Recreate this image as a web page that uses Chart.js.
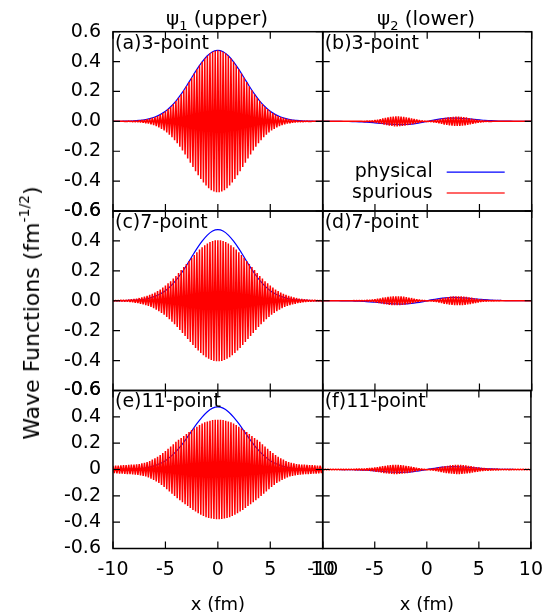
<!DOCTYPE html>
<html><head><meta charset="utf-8">
<script src="https://cdn.jsdelivr.net/npm/chart.js@4.4.1/dist/chart.umd.min.js"></script>
<style>
html,body{margin:0;padding:0;background:#fff;}
#wrap{position:relative;width:553px;height:613px;overflow:hidden;font-family:"DejaVu Sans",sans-serif;color:#000;background:#fff;}
canvas{position:absolute;left:0;top:0;}
.t{position:absolute;font-size:19px;white-space:nowrap;transform:translate(-50%,-50%);line-height:1;}
.sub{font-size:13px;position:relative;top:5px;}
.sup{font-size:14px;position:relative;top:-10px;}
</style></head><body>
<div id="wrap">
<canvas id="c0" width="553" height="613"></canvas>
<canvas id="c1" width="553" height="613"></canvas>
<canvas id="c2" width="553" height="613"></canvas>
<canvas id="c3" width="553" height="613"></canvas>
<canvas id="c4" width="553" height="613"></canvas>
<canvas id="c5" width="553" height="613"></canvas>
<div class="t" style="left:217px;top:18px;font-size:20px">ψ<span class="sub">1</span> (upper)</div>
<div class="t" style="left:426px;top:18px;font-size:20px">ψ<span class="sub">2</span> (lower)</div>
<div class="t" style="left:218px;top:604px;font-size:18px">x (fm)</div>
<div class="t" style="left:427px;top:604px;font-size:18px">x (fm)</div>
<div class="t" style="left:32px;top:313px;font-size:22px;transform:translate(-50%,-50%) rotate(-90deg);">Wave Functions (fm<span class="sup">-1/2</span>)</div>
</div>
<script>
// ---- data ----
const X_TICKS = [-10, -5, 0, 5, 10];
const Y_TICKS = [-0.6, -0.4, -0.2, 0, 0.2, 0.4, 0.6];
const X_COARSE = [-10,-9.5,-9,-8.5,-8,-7.5,-7,-6.5,-6,-5.5,-5,-4.5,-4,-3.5,-3,-2.5,-2,-1.5,-1,-0.5,0,0.5,1,1.5,2,2.5,3,3.5,4,4.5,5,5.5,6,6.5,7,7.5,8,8.5,9,9.5,10];
const X_FINE = [
 -10,-9.875,-9.75,-9.625,-9.5,-9.375,-9.25,-9.125,
 -9,-8.875,-8.75,-8.625,-8.5,-8.375,-8.25,-8.125,
 -8,-7.875,-7.75,-7.625,-7.5,-7.375,-7.25,-7.125,
 -7,-6.875,-6.75,-6.625,-6.5,-6.375,-6.25,-6.125,
 -6,-5.875,-5.75,-5.625,-5.5,-5.375,-5.25,-5.125,
 -5,-4.875,-4.75,-4.625,-4.5,-4.375,-4.25,-4.125,
 -4,-3.875,-3.75,-3.625,-3.5,-3.375,-3.25,-3.125,
 -3,-2.875,-2.75,-2.625,-2.5,-2.375,-2.25,-2.125,
 -2,-1.875,-1.75,-1.625,-1.5,-1.375,-1.25,-1.125,
 -1,-0.875,-0.75,-0.625,-0.5,-0.375,-0.25,-0.125,
 0,
 0.125,0.25,0.375,0.5,0.625,0.75,0.875,1,
 1.125,1.25,1.375,1.5,1.625,1.75,1.875,2,
 2.125,2.25,2.375,2.5,2.625,2.75,2.875,3,
 3.125,3.25,3.375,3.5,3.625,3.75,3.875,4,
 4.125,4.25,4.375,4.5,4.625,4.75,4.875,5,
 5.125,5.25,5.375,5.5,5.625,5.75,5.875,6,
 6.125,6.25,6.375,6.5,6.625,6.75,6.875,7,
 7.125,7.25,7.375,7.5,7.625,7.75,7.875,8,
 8.125,8.25,8.375,8.5,8.625,8.75,8.875,9,
 9.125,9.25,9.375,9.5,9.625,9.75,9.875,10];

// physical wave functions (blue), on X_COARSE
const PHYS_UPPER = [0,0,0.001,0.002,0.003,0.006,0.010,0.018,0.029,0.045,0.067,0.098,0.136,0.182,0.235,0.292,0.348,0.398,0.439,0.466,0.475,0.466,0.439,0.398,0.348,0.292,0.235,0.182,0.136,0.098,0.067,0.045,0.029,0.018,0.010,0.006,0.003,0.002,0.001,0,0];
const PHYS_LOWER = [0,0,0,0,-0.001,-0.001,-0.002,-0.003,-0.005,-0.007,-0.010,-0.013,-0.016,-0.019,-0.021,-0.022,-0.021,-0.018,-0.013,-0.007,0,0.007,0.013,0.018,0.021,0.022,0.021,0.019,0.016,0.013,0.010,0.007,0.005,0.003,0.002,0.001,0.001,0,0,0,0];

// spurious solutions (red), on X_FINE
const SPUR_A = [
 0,0,0,0,0,0,0,0,
 0.001,-0.001,0.001,-0.001,0.002,-0.002,0.002,-0.003,0.003,-0.004,0.004,-0.005,0.006,-0.007,0.008,-0.009,
 0.010,-0.012,0.014,-0.015,0.018,-0.020,0.023,-0.025,0.029,-0.032,0.036,-0.040,0.045,-0.050,0.055,-0.061,
 0.067,-0.074,0.082,-0.089,0.098,-0.107,0.116,-0.126,0.136,-0.147,0.158,-0.170,0.182,-0.195,0.208,-0.222,
 0.235,-0.249,0.263,-0.277,0.292,-0.306,0.320,-0.334,0.348,-0.361,0.374,-0.386,0.398,-0.410,0.420,-0.430,
 0.439,-0.447,0.455,-0.461,0.466,-0.470,0.473,-0.474,
 0.475,
 -0.474,0.473,-0.470,0.466,-0.461,0.455,-0.447,0.439,
 -0.430,0.420,-0.410,0.398,-0.386,0.374,-0.361,0.348,-0.334,0.320,-0.306,0.292,-0.277,0.263,-0.249,0.235,
 -0.222,0.208,-0.195,0.182,-0.170,0.158,-0.147,0.136,-0.126,0.116,-0.107,0.098,-0.089,0.082,-0.074,0.067,
 -0.061,0.055,-0.050,0.045,-0.040,0.036,-0.032,0.029,-0.025,0.023,-0.020,0.018,-0.015,0.014,-0.012,0.010,
 -0.009,0.008,-0.007,0.006,-0.005,0.004,-0.004,0.003,-0.003,0.002,-0.002,0.002,-0.001,0.001,-0.001,0.001,
 0,0,0,0,0,0,0,0];
const SPUR_C = [
 0.003,-0.003,0.003,-0.003,0.003,-0.003,0.004,-0.004,0.005,-0.005,0.006,-0.006,0.007,-0.008,0.009,-0.010,
 0.012,-0.013,0.014,-0.016,0.018,-0.020,0.022,-0.024,0.027,-0.029,0.032,-0.035,0.039,-0.042,0.046,-0.050,
 0.055,-0.060,0.065,-0.070,0.075,-0.081,0.088,-0.094,0.101,-0.108,0.116,-0.123,0.131,-0.140,0.148,-0.157,
 0.166,-0.176,0.185,-0.195,0.205,-0.215,0.225,-0.235,0.246,-0.256,0.266,-0.276,0.286,-0.296,0.306,-0.315,
 0.324,-0.333,0.342,-0.350,0.357,-0.365,0.371,-0.378,0.383,-0.388,0.393,-0.396,0.399,-0.402,0.404,-0.405,
 0.405,
 -0.405,0.404,-0.402,0.399,-0.396,0.393,-0.388,0.383,-0.378,0.371,-0.365,0.357,-0.350,0.342,-0.333,0.324,
 -0.315,0.306,-0.296,0.286,-0.276,0.266,-0.256,0.246,-0.235,0.225,-0.215,0.205,-0.195,0.185,-0.176,0.166,
 -0.157,0.148,-0.140,0.131,-0.123,0.116,-0.108,0.101,-0.094,0.088,-0.081,0.075,-0.070,0.065,-0.060,0.055,
 -0.050,0.046,-0.042,0.039,-0.035,0.032,-0.029,0.027,-0.024,0.022,-0.020,0.018,-0.016,0.014,-0.013,0.012,
 -0.010,0.009,-0.008,0.007,-0.006,0.006,-0.005,0.005,-0.004,0.004,-0.003,0.003,-0.003,0.003,-0.003,0.003];
const SPUR_E = [
 0.028,-0.028,0.029,-0.029,0.030,-0.031,0.032,-0.032,0.033,-0.034,0.034,-0.035,0.036,-0.036,0.037,-0.037,
 0.038,-0.039,0.040,-0.041,0.042,-0.044,0.046,-0.048,0.050,-0.053,0.057,-0.061,0.065,-0.070,0.075,-0.080,
 0.085,-0.091,0.097,-0.103,0.110,-0.117,0.125,-0.132,0.140,-0.149,0.157,-0.166,0.175,-0.184,0.192,-0.201,
 0.210,-0.218,0.225,-0.233,0.240,-0.248,0.255,-0.263,0.270,-0.278,0.285,-0.293,0.300,-0.307,0.313,-0.319,
 0.325,-0.332,0.338,-0.344,0.350,-0.354,0.358,-0.362,0.365,-0.368,0.371,-0.373,0.375,-0.376,0.377,-0.378,
 0.378,
 -0.378,0.377,-0.376,0.375,-0.373,0.371,-0.368,0.365,-0.362,0.358,-0.354,0.350,-0.344,0.338,-0.332,0.325,
 -0.319,0.313,-0.307,0.300,-0.293,0.285,-0.278,0.270,-0.263,0.255,-0.248,0.240,-0.233,0.225,-0.218,0.210,
 -0.201,0.192,-0.184,0.175,-0.166,0.157,-0.149,0.140,-0.132,0.125,-0.117,0.110,-0.103,0.097,-0.091,0.085,
 -0.080,0.075,-0.070,0.065,-0.061,0.057,-0.053,0.050,-0.048,0.046,-0.044,0.042,-0.041,0.040,-0.039,0.038,
 -0.037,0.037,-0.036,0.036,-0.035,0.034,-0.034,0.033,-0.032,0.032,-0.031,0.030,-0.029,0.029,-0.028,0.028];
const SPUR_B = [
 0,0,0,0,0,0,0,0,0,0,0,0,0,0,0,0,0,0,0,0,0,0,0,0,0,0,0,0,0,0,
 0.001,-0.001,0.001,-0.001,0.002,-0.002,0.003,-0.004,0.005,-0.006,
 0.008,-0.009,0.011,-0.013,0.015,-0.017,0.019,-0.021,0.023,-0.025,
 0.027,-0.028,0.030,-0.031,0.032,-0.033,0.033,-0.033,0.033,-0.032,
 0.032,-0.031,0.030,-0.028,0.027,-0.025,0.024,-0.022,0.020,-0.018,
 0.016,-0.014,0.012,-0.010,0.008,-0.006,0.005,-0.003,0.002,-0.001,
 0,
 -0.001,0.002,-0.003,0.005,-0.006,0.008,-0.009,0.011,-0.013,0.015,
 -0.017,0.019,-0.021,0.023,-0.024,0.026,-0.027,0.028,-0.029,0.030,
 -0.030,0.031,-0.031,0.031,-0.031,0.030,-0.029,0.028,-0.027,0.026,
 -0.024,0.022,-0.020,0.018,-0.016,0.014,-0.012,0.010,-0.009,0.008,
 -0.006,0.005,-0.004,0.003,-0.002,0.002,-0.001,0.001,-0.001,0.001,
 0,0,0,0,0,0,0,0,0,0,0,0,0,0,0,0,0,0,0,0,0,0,0,0,0,0,0,0,0,0];
const SPUR_D = [
 0,0,0,0,0,0,0,0,0,0,0,0,0,0,0,0,0,0,0,0,0,0,0,0,
 0.001,-0.001,0.001,-0.001,0.002,-0.002,0.002,-0.002,0.003,-0.003,0.004,-0.004,0.005,-0.006,0.007,-0.008,
 0.010,-0.012,0.013,-0.015,0.016,-0.018,0.020,-0.022,0.023,-0.025,0.026,-0.027,0.028,-0.029,0.030,-0.030,
 0.030,-0.030,0.030,-0.030,0.029,-0.028,0.027,-0.026,0.024,-0.023,0.021,-0.020,0.018,-0.016,0.014,-0.012,
 0.010,-0.008,0.007,-0.005,0.004,-0.003,0.002,-0.001,
 0,
 -0.001,0.002,-0.003,0.004,-0.005,0.007,-0.008,0.010,
 -0.012,0.014,-0.016,0.018,-0.020,0.021,-0.023,0.024,-0.026,0.027,-0.028,0.029,-0.030,0.030,-0.030,0.030,
 -0.030,0.030,-0.029,0.028,-0.027,0.026,-0.025,0.023,-0.022,0.020,-0.018,0.016,-0.015,0.013,-0.012,0.010,
 -0.008,0.007,-0.006,0.005,-0.004,0.004,-0.003,0.003,-0.002,0.002,-0.002,0.002,-0.001,0.001,-0.001,0.001,
 0,0,0,0,0,0,0,0,0,0,0,0,0,0,0,0,0,0,0,0,0,0,0,0];
const SPUR_F = [
 0.003,-0.003,0.003,-0.003,0.003,-0.003,0.003,-0.003,0.003,-0.003,0.003,-0.003,0.003,-0.003,0.003,-0.003,
 0.003,-0.004,0.004,-0.004,0.004,-0.004,0.004,-0.004,0.004,-0.005,0.005,-0.005,0.005,-0.006,0.006,-0.007,
 0.007,-0.008,0.008,-0.009,0.010,-0.011,0.012,-0.014,0.015,-0.017,0.018,-0.020,0.021,-0.023,0.025,-0.027,
 0.028,-0.030,0.031,-0.032,0.033,-0.034,0.035,-0.035,0.035,-0.035,0.035,-0.034,0.033,-0.032,0.031,-0.030,
 0.028,-0.027,0.025,-0.023,0.021,-0.019,0.017,-0.015,0.013,-0.011,0.009,-0.007,0.005,-0.004,0.002,-0.001,
 0,
 -0.001,0.002,-0.004,0.005,-0.007,0.009,-0.011,0.013,-0.015,0.017,-0.019,0.021,-0.023,0.025,-0.027,0.028,
 -0.030,0.031,-0.032,0.033,-0.034,0.035,-0.035,0.035,-0.035,0.035,-0.034,0.033,-0.032,0.031,-0.030,0.028,
 -0.027,0.025,-0.023,0.021,-0.020,0.018,-0.017,0.015,-0.014,0.012,-0.011,0.010,-0.009,0.008,-0.008,0.007,
 -0.007,0.006,-0.006,0.005,-0.005,0.005,-0.005,0.004,-0.004,0.004,-0.004,0.004,-0.004,0.004,-0.004,0.003,
 -0.003,0.003,-0.003,0.003,-0.003,0.003,-0.003,0.003,-0.003,0.003,-0.003,0.003,-0.003,0.003,-0.003,0.003];

const PANEL_LABELS = ['(a)3-point','(b)3-point','(c)7-point','(d)7-point','(e)11-point','(f)11-point'];
const SERIES_NAMES = ['physical','spurious'];

// ---- layout ----
const W = 553, H = 613;
const COLS = [113, 322.7, 531.7];
const ROWS = [31.7, 211, 390.5, 548.5];
const YAXIS_W = 100, XAXIS_H = 50;
const TICK = 7;
const FONT = '"DejaVu Sans", sans-serif';

Chart.defaults.font.family = FONT;
Chart.defaults.font.size = 19;
Chart.defaults.color = '#000';

const PANELS = [
  {label: PANEL_LABELS[0], col: 0, row: 0, phys: PHYS_UPPER, spur: SPUR_A},
  {label: PANEL_LABELS[1], col: 1, row: 0, phys: PHYS_LOWER, spur: SPUR_B, legend: true},
  {label: PANEL_LABELS[2], col: 0, row: 1, phys: PHYS_UPPER, spur: SPUR_C},
  {label: PANEL_LABELS[3], col: 1, row: 1, phys: PHYS_LOWER, spur: SPUR_D},
  {label: PANEL_LABELS[4], col: 0, row: 2, phys: PHYS_UPPER, spur: SPUR_E, shortZero: true},
  {label: PANEL_LABELS[5], col: 1, row: 2, phys: PHYS_LOWER, spur: SPUR_F}
];

const framePlugin = {
  id: 'frame',
  afterDatasetsDraw(chart, args, opts) {
    const {ctx, chartArea: a, scales: {x, y}} = chart;
    ctx.save();
    ctx.strokeStyle = '#000';
    ctx.lineWidth = 1.2;
    ctx.beginPath();
    X_TICKS.forEach(v => {
      const px = x.getPixelForValue(v);
      ctx.moveTo(px, a.bottom); ctx.lineTo(px, a.bottom - TICK);
      ctx.moveTo(px, a.top); ctx.lineTo(px, a.top + TICK);
    });
    Y_TICKS.forEach(v => {
      const py = y.getPixelForValue(v);
      ctx.moveTo(a.left, py); ctx.lineTo(a.left + TICK, py);
      ctx.moveTo(a.right, py); ctx.lineTo(a.right - TICK, py);
    });
    ctx.stroke();
    ctx.lineWidth = 1.5;
    ctx.strokeRect(a.left, a.top, a.right - a.left, a.bottom - a.top);
    ctx.fillStyle = '#000';
    ctx.font = '19px ' + FONT;
    ctx.textBaseline = 'middle';
    ctx.textAlign = 'left';
    ctx.fillText(opts.label, a.left + 2, a.top + 12);
    if (opts.legend) {
      const ds = chart.data.datasets;
      const yy = [y.getPixelForValue(-0.34), y.getPixelForValue(-0.48)];
      ds.forEach((d, i) => {
        ctx.textAlign = 'right';
        ctx.fillStyle = '#000';
        ctx.fillText(d.label, a.left + 110, yy[i]);
        ctx.beginPath();
        ctx.strokeStyle = i === 0 ? '#0000ff' : 'rgba(255,0,0,0.6)';
        ctx.lineWidth = i === 0 ? 1.3 : 2;
        ctx.moveTo(a.left + 124, yy[i]); ctx.lineTo(a.left + 182, yy[i]);
        ctx.stroke();
      });
    }
    ctx.restore();
  }
};

PANELS.forEach((p, idx) => {
  const L = COLS[p.col], R = COLS[p.col + 1], T = ROWS[p.row], B = ROWS[p.row + 1];
  new Chart(document.getElementById('c' + idx), {
    type: 'line',
    data: {
      datasets: [
        {label: SERIES_NAMES[0], data: X_COARSE.map((x, i) => ({x, y: p.phys[i]})),
         borderColor: '#0000ff', borderWidth: 1.2, pointRadius: 0, cubicInterpolationMode: 'monotone', order: 2},
        {label: SERIES_NAMES[1], data: X_FINE.map((x, i) => ({x, y: p.spur[i]})),
         borderColor: '#ff0000', borderWidth: 1.5, pointRadius: 0, tension: 0, borderJoinStyle: 'bevel', order: 1}
      ]
    },
    options: {
      responsive: false, animation: false, events: [],
      layout: {padding: {left: L - YAXIS_W, right: W - R, top: T, bottom: H - B - XAXIS_H}},
      plugins: {legend: {display: false}, tooltip: {enabled: false},
                frame: {label: p.label, legend: !!p.legend}},
      scales: {
        x: {type: 'linear', min: -10, max: 10,
            afterBuildTicks: s => { s.ticks = X_TICKS.map(v => ({value: v})); },
            afterFit: s => { s.height = XAXIS_H; },
            grid: {display: false, drawTicks: false}, border: {display: false},
            ticks: {display: p.row === 2, padding: 10, maxRotation: 0, autoSkip: false,
                    callback: v => String(v)}},
        y: {type: 'linear', min: -0.6, max: 0.6,
            afterBuildTicks: s => { s.ticks = Y_TICKS.map(v => ({value: v})); },
            afterFit: s => { s.width = YAXIS_W; },
            grid: {display: false, drawTicks: false}, border: {display: false},
            ticks: {display: p.col === 0, padding: 12, autoSkip: false,
                    callback: v => (p.shortZero && v === 0) ? '0' : v.toFixed(1)}}
      }
    },
    plugins: [framePlugin]
  });
});
</script>
</body></html>
